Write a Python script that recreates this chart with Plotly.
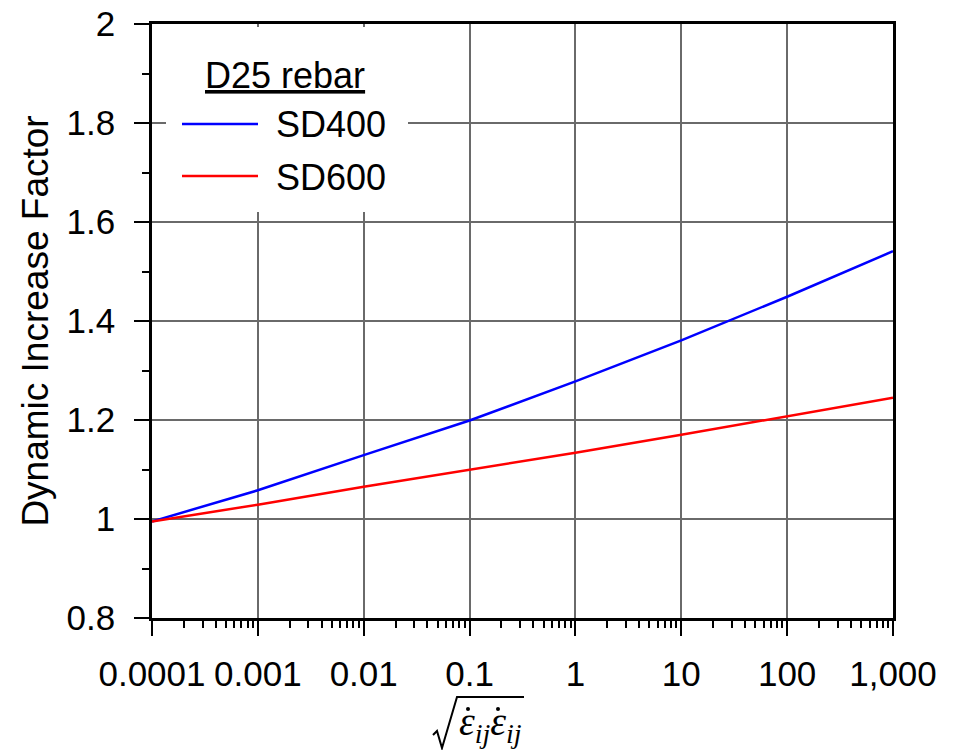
import plotly.graph_objects as go

# ---- data ----
strain_rate = [0.0001, 0.001, 0.01, 0.1, 1, 10, 100, 1000]
dif_sd400 = [0.995, 1.058, 1.129, 1.199, 1.278, 1.361, 1.449, 1.541]
dif_sd600 = [0.995, 1.029, 1.065, 1.099, 1.134, 1.170, 1.208, 1.245]
series_names = ["SD400", "SD600"]
series_colors = ["#0000FF", "#FF0000"]
legend_title = "D25 rebar"
x_tickvals = [0.0001, 0.001, 0.01, 0.1, 1, 10, 100, 1000]
x_ticktext = ["0.0001", "0.001", "0.01", "0.1", "1", "10", "100", "1,000"]
y_title = "Dynamic Increase Factor"

W, H = 955, 750
L, R, T, B = 152, 62, 24, 132
PW, PH = W - L - R, H - T - B


def px(x):
    return (x - L) / PW


def py(y):
    return (H - B - y) / PH


FONT = "Liberation Sans, Arial, sans-serif"

fig = go.Figure()
for name, vals, col in zip(series_names, [dif_sd400, dif_sd600], series_colors):
    fig.add_trace(go.Scatter(x=strain_rate, y=vals, mode="lines", name=name,
                             line=dict(color=col, width=2.5), showlegend=False))

fig.update_layout(
    width=W, height=H,
    margin=dict(l=L, r=R, t=T, b=B),
    paper_bgcolor="white", plot_bgcolor="white",
    font=dict(family=FONT, size=35, color="black"),
)
fig.update_xaxes(
    type="log", range=[-4, 3],
    tickvals=x_tickvals, ticktext=x_ticktext,
    ticks="outside", ticklen=15, tickwidth=2, tickcolor="black",
    ticklabelstandoff=8,
    minor=dict(ticks="outside", ticklen=7, tickwidth=2, tickcolor="black", dtick="D1", showgrid=False),
    showgrid=True, gridcolor="#6a6a6a", gridwidth=1.5,
    showline=True, linecolor="black", linewidth=2.5, mirror=True,
    zeroline=False, automargin=False,
    tickfont=dict(family=FONT, size=35),
)
fig.update_yaxes(
    range=[0.8, 2.0], dtick=0.2, tick0=0.8,
    ticks="outside", ticklen=15, tickwidth=2, tickcolor="black",
    ticklabelstandoff=12,
    minor=dict(ticks="outside", ticklen=7, tickwidth=2, tickcolor="black", dtick=0.1, showgrid=False),
    showgrid=True, gridcolor="#6a6a6a", gridwidth=1.5,
    showline=True, linecolor="black", linewidth=2.5, mirror=True,
    zeroline=False, automargin=False,
    title=dict(text=y_title, font=dict(family=FONT, size=37), standoff=7),
    tickfont=dict(family=FONT, size=35),
)

# ---- manual legend ----
fig.add_shape(type="rect", xref="paper", yref="paper",
              x0=px(166), x1=px(408), y0=py(212), y1=py(27),
              fillcolor="white", line=dict(width=0), layer="above")
legend_rows_y = [124, 176]
for name, col, yy in zip(series_names, series_colors, legend_rows_y):
    fig.add_shape(type="line", xref="paper", yref="paper",
                  x0=px(182), x1=px(258), y0=py(yy), y1=py(yy),
                  line=dict(color=col, width=2.5), layer="above")
    fig.add_annotation(xref="paper", yref="paper", x=px(274), y=py(yy + 1),
                       text=name, showarrow=False, xanchor="left", yanchor="middle",
                       font=dict(family=FONT, size=36, color="black"))
fig.add_annotation(xref="paper", yref="paper", x=px(285), y=py(75),
                   text="<u>" + legend_title + "</u>", showarrow=False,
                   xanchor="center", yanchor="middle",
                   font=dict(family=FONT, size=36, color="black"))

# ---- x-axis label: sqrt(eps_dot_ij * eps_dot_ij) ----
rad_pts = [(433, 735), (437, 731), (442, 748), (457, 697), (524, 697)]
path = "M " + " L ".join(f"{px(a):.5f},{py(b):.5f}" for a, b in rad_pts)
fig.add_shape(type="path", xref="paper", yref="paper", path=path,
              line=dict(color="black", width=2), layer="above")
fig.add_annotation(xref="paper", yref="paper", x=px(490), y=py(724),
                   text="<i>\u03b5<sub>ij</sub>\u03b5<sub>ij</sub></i>",
                   showarrow=False, xanchor="center", yanchor="middle",
                   font=dict(family="Liberation Serif, Times New Roman, serif", size=40, color="black"))
for dx in (468, 498):
    fig.add_shape(type="circle", xref="paper", yref="paper",
                  x0=px(dx - 2), x1=px(dx + 2), y0=py(711), y1=py(707),
                  fillcolor="black", line=dict(width=0), layer="above")

fig.write_html("out.html")
